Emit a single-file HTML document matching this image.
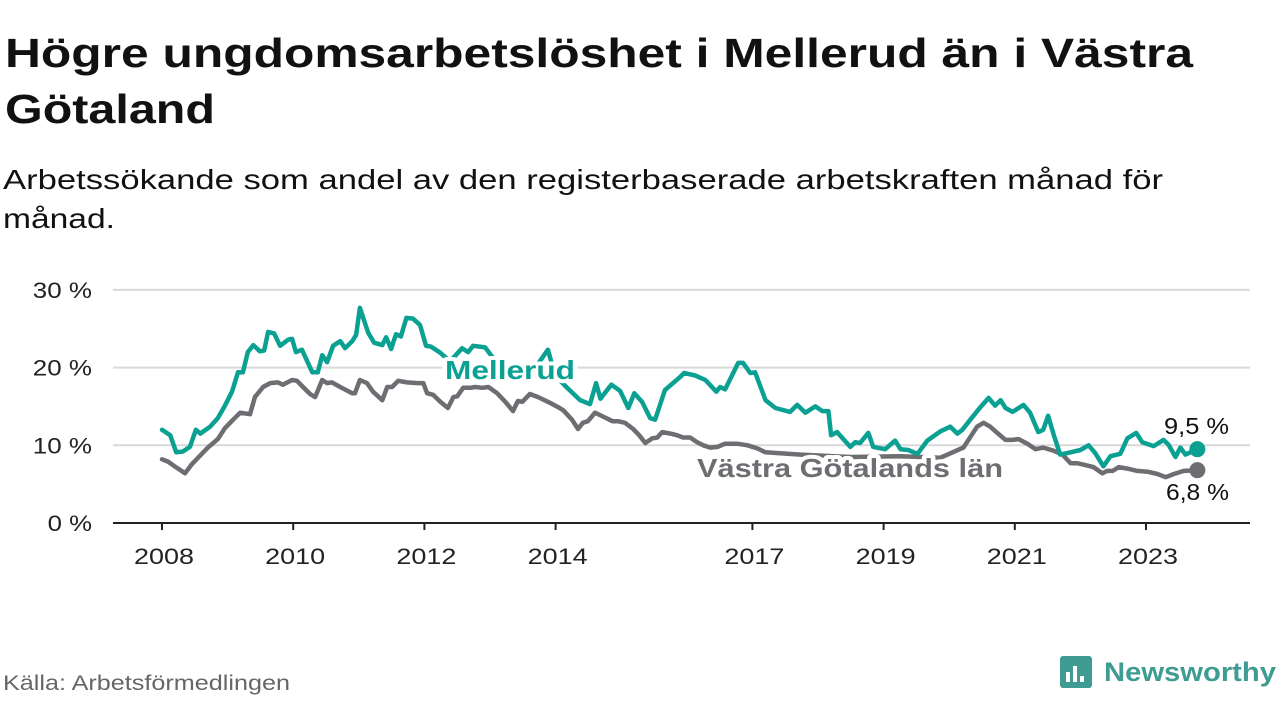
<!DOCTYPE html>
<html><head><meta charset="utf-8"><style>
html,body{margin:0;padding:0;background:#fff;width:1280px;height:720px;overflow:hidden}
svg{display:block;font-family:"Liberation Sans",sans-serif}
</style></head><body>
<svg id="chart" width="1280" height="720" viewBox="0 0 1280 720">
<text x="5" y="67" font-size="41" font-weight="bold" fill="#111" textLength="1188" lengthAdjust="spacingAndGlyphs">Högre ungdomsarbetslöshet i Mellerud än i Västra</text>
<text x="5" y="123" font-size="41" font-weight="bold" fill="#111" textLength="210" lengthAdjust="spacingAndGlyphs">Götaland</text>
<text x="3" y="189" font-size="28" fill="#111" textLength="1160" lengthAdjust="spacingAndGlyphs">Arbetssökande som andel av den registerbaserade arbetskraften månad för</text>
<text x="3" y="228" font-size="28" fill="#111" textLength="112" lengthAdjust="spacingAndGlyphs">månad.</text>
<g id="grid"></g>
<g id="xaxis"></g>
<g id="series"></g>
<g id="labels"></g>
<text x="3" y="690" font-size="21" fill="#666" textLength="287" lengthAdjust="spacingAndGlyphs">Källa: Arbetsförmedlingen</text>
<g>
<rect x="1060" y="656" width="32" height="32" rx="3" fill="#3e9c92"/>
<rect x="1066" y="672" width="4" height="10" fill="#fff"/><rect x="1073" y="666" width="4" height="16" fill="#fff"/><rect x="1080" y="676" width="4" height="6" fill="#fff"/>
<text x="1104" y="681" font-size="27" font-weight="bold" fill="#3e9c92" textLength="172" lengthAdjust="spacingAndGlyphs">Newsworthy</text>
</g>
</svg>
<script>
const yTicks=[0,10,20,30];
const yTickLabels=["0 %","10 %","20 %","30 %"];
const xTickYears=[2008,2010,2012,2014,2017,2019,2021,2023];
const mMonths=[0,1.5,2.6,3.8,5.1,6.2,7.0,8.8,10.2,11.5,12.8,13.9,14.8,15.7,16.7,17.9,18.7,19.4,20.5,21.6,23.1,23.8,24.5,25.6,27.5,28.5,29.3,30.2,31.3,32.6,33.5,34.8,35.5,36.2,37.7,38.8,40.3,41.0,41.9,42.8,43.7,44.7,45.9,47.2,48.3,49.2,50.9,52.7,54.9,56.0,56.9,59.1,61.9,64.6,66.4,68.3,70.6,71.9,74.1,76.5,78.3,79.4,80.2,82.2,83.8,85.3,86.4,87.8,89.3,90.2,92.0,94.8,95.5,97.5,99.4,101.4,102.1,103.0,105.4,106.3,107.6,108.5,110.4,112.2,114.9,116.2,117.7,119.5,120.8,121.9,122.4,123.5,125.9,126.8,127.7,129.2,130.1,132.3,134.1,135.1,136.5,138.2,140.0,142.4,144.2,145.5,146.4,148.2,149.7,151.2,152.4,153.4,154.3,155.6,157.6,158.8,160.3,161.2,162.1,163.1,164.3,165.6,168.0,169.5,170.7,172.2,173.5,175.3,176.6,178.2,179.3,181.4,183.2,184.1,185.4,186.3,187.2,189.4];
const mVals=[12.0,11.3,9.1,9.2,9.8,12.0,11.5,12.4,13.5,15.1,16.9,19.4,19.4,22.0,22.9,22.1,22.2,24.6,24.4,22.8,23.6,23.7,22.0,22.3,19.4,19.4,21.6,20.7,22.8,23.4,22.5,23.4,24.2,27.7,24.5,23.2,22.9,23.9,22.4,24.3,24.0,26.4,26.3,25.5,22.8,22.7,21.9,20.8,22.5,22.0,22.8,22.6,20,19,18.4,20,22.3,19.0,17.4,15.8,15.3,18.0,16.0,17.8,17.0,14.8,16.7,15.6,13.5,13.3,17.1,18.8,19.3,19.0,18.4,16.9,17.5,17.2,20.6,20.6,19.3,19.4,15.8,14.8,14.3,15.2,14.2,15.0,14.4,14.4,11.3,11.7,9.8,10.4,10.3,11.6,9.8,9.5,10.6,9.5,9.4,8.9,10.6,11.8,12.4,11.5,12.0,13.6,14.9,16.1,15.1,15.8,14.8,14.3,15.2,14.2,11.7,12.0,13.8,11.4,8.8,9.0,9.4,10.0,9.0,7.3,8.6,8.9,10.9,11.6,10.4,9.9,10.7,10.1,8.5,9.7,8.8,9.5];
const vgMonths=[0,1.1,2.7,4.2,5.5,6.6,8.4,10.2,11.5,13.0,14.3,16.1,17.0,18.5,19.8,21.2,22.1,23.8,24.7,25.8,27.1,28.0,29.3,30.2,31.1,32.6,34.8,35.3,36.2,37.5,38.6,40.3,41.2,42.1,43.2,44.8,46.8,47.8,48.5,49.6,50.9,52.3,53.3,54.0,55.1,56.4,57.3,58.6,59.7,61.3,62.8,64.2,65.1,65.9,67.3,68.8,70.6,72.5,73.4,75.0,76.1,77.0,77.9,79.2,80.7,82.4,83.4,84.7,86.2,87.3,88.4,89.7,90.6,91.5,93.0,94.2,95.3,96.6,97.9,99.0,100.3,101.6,103.0,105.2,107.1,108.9,110.4,116.8,125.9,135.1,142.4,146.6,149.1,150.3,151.5,152.8,154.3,155.6,156.7,158.3,159.8,161.2,163.1,164.7,166.2,167.4,168.6,170.4,172.0,172.9,173.9,175.0,176.6,178.4,180.3,182.1,183.6,185.1,186.9,189.4];
const vgVals=[8.2,7.9,7.1,6.4,7.6,8.4,9.7,10.8,12.2,13.3,14.2,14.0,16.2,17.5,18.0,18.1,17.8,18.4,18.3,17.5,16.6,16.2,18.4,18.0,18.1,17.5,16.7,16.7,18.4,18.0,16.9,15.8,17.5,17.5,18.3,18.1,18.0,18.0,16.7,16.5,15.6,14.8,16.2,16.3,17.4,17.4,17.5,17.4,17.5,16.7,15.6,14.4,15.7,15.6,16.6,16.2,15.6,14.9,14.5,13.3,12.1,12.9,13.1,14.2,13.7,13.1,13.1,12.9,12.1,11.3,10.3,10.9,11.0,11.7,11.5,11.3,11.0,11.0,10.4,10.0,9.7,9.8,10.2,10.2,10.0,9.6,9.1,8.8,8.5,8.6,8.4,9.7,12.4,12.9,12.4,11.6,10.7,10.7,10.8,10.2,9.5,9.7,9.3,8.8,7.7,7.7,7.5,7.2,6.4,6.7,6.7,7.2,7.0,6.7,6.6,6.3,5.9,6.3,6.7,6.8];
const endLabels=["9,5 %","6,8 %"];

const NS="http://www.w3.org/2000/svg";
const xOfMonth=m=>162+m*65.6/12;
const xOfYear=y=>xOfMonth((y-2008)*12);
const yOf=v=>523-v*7.77;
function mk(tag,attrs,parent){const e=document.createElementNS(NS,tag);for(const k in attrs)e.setAttribute(k,attrs[k]);parent.appendChild(e);return e;}
const grid=document.getElementById('grid');
yTicks.forEach((t,i)=>{
  if(t>0){const l=mk('line',{x1:113,x2:1250,y1:yOf(t),y2:yOf(t),stroke:'#d9d9d9','stroke-width':2},grid);
  
  }
  const w=yTickLabels[i].length*14.8;
  const tx=mk('text',{x:92,y:yOf(t)+8,'font-size':22,fill:'#222','text-anchor':'end',textLength:w,lengthAdjust:'spacingAndGlyphs'},grid);
  tx.textContent=yTickLabels[i];
  
  
});
const xa=document.getElementById('xaxis');
const base=mk('line',{x1:113,x2:1250,y1:523,y2:523,stroke:'#222','stroke-width':2},xa);


xTickYears.forEach(y=>{
  const x=xOfYear(y);
  const tk=mk('line',{x1:x,x2:x,y1:523,y2:530,stroke:'#222','stroke-width':2},xa);
  
  
  const tx=mk('text',{x:x+2,y:564,'font-size':22,fill:'#222','text-anchor':'middle',textLength:60,lengthAdjust:'spacingAndGlyphs'},xa);
  tx.textContent=y;
  
  
});
const ser=document.getElementById('series');
function line(ms,vs,color,name){
  const d=ms.map((m,i)=>(i?'L':'M')+xOfMonth(m).toFixed(1)+','+yOf(vs[i]).toFixed(1)).join('');
  const p=mk('path',{d:d,fill:'none',stroke:color,'stroke-width':4.5,'stroke-linejoin':'round','stroke-linecap':'round'},ser);
  
  
  const n=ms.length-1;
  const c=mk('circle',{cx:xOfMonth(ms[n]),cy:yOf(vs[n]),r:8,fill:color},ser);
  
  
}
line(vgMonths,vgVals,'#6e6d72','vastra-gotaland-line');
line(mMonths,mVals,'#0aa092','mellerud-line');
const lb=document.getElementById('labels');
function lab(x,y,txt,color,size,weight,name,anchor,halo,w){
  const t=mk('text',{x:x,y:y,'font-size':size,'font-weight':weight,fill:color,'text-anchor':anchor||'start'},lb);
  if(w){t.setAttribute('textLength',w);t.setAttribute('lengthAdjust','spacingAndGlyphs');}
  if(halo){t.setAttribute('stroke','#fff');t.setAttribute('stroke-width',8);t.setAttribute('paint-order','stroke');t.setAttribute('stroke-linejoin','round');}
  t.textContent=txt;
  
  
}
lab(445,379,'Mellerud','#0aa092',26,'bold','mellerud-label','start',true,130);
lab(697,477,'Västra Götalands län','#6e6d72',26,'bold','vastra-gotaland-label','start',true,306);
lab(1229,434,endLabels[0],'#111',23,'normal','mellerud-end-value','end',true,65);
lab(1229,500,endLabels[1],'#111',23,'normal','vastra-gotaland-end-value','end',true,63);
</script>
</body></html>
